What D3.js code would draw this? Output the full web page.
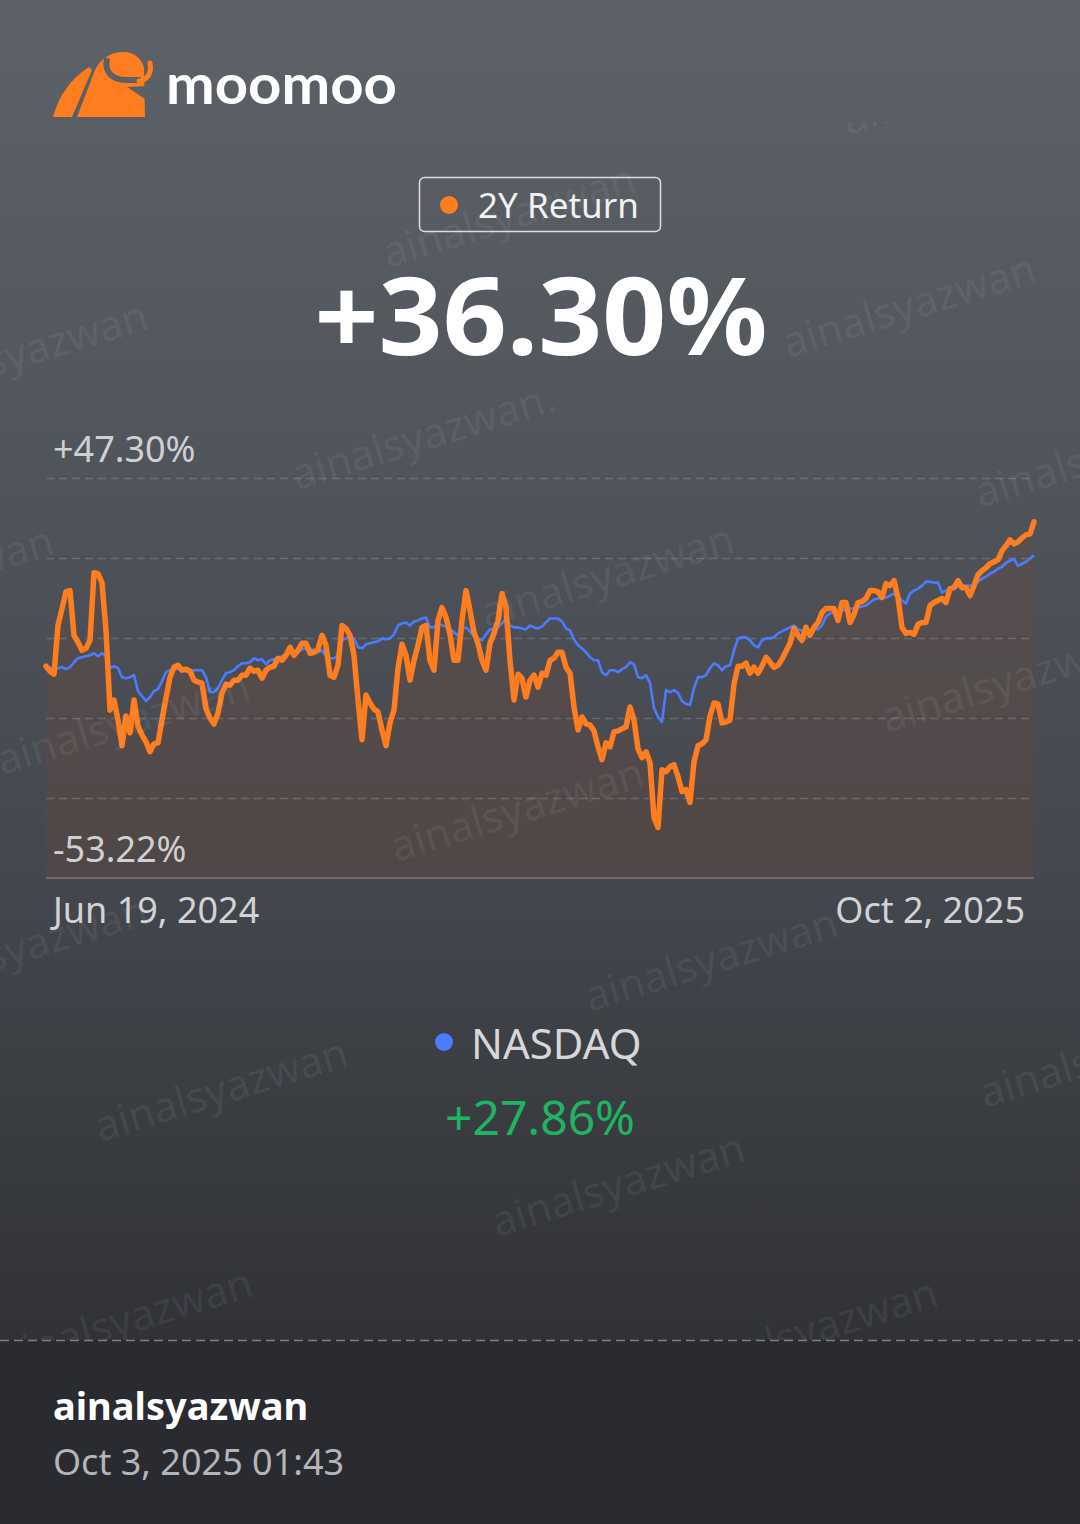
<!DOCTYPE html>
<html>
<head>
<meta charset="utf-8">
<script src="https://cdnjs.cloudflare.com/ajax/libs/d3/7.8.5/d3.min.js"></script>
<style>
  body { margin: 0; background: #2a2b30; }
  svg { display: block; }
</style>
</head>
<body>
<div id="chart"></div>
<script>
// fund return (%) sampled evenly from Jun 19, 2024 to Oct 2, 2025
var fundReturns = [
  0, -1.25, -2, 10.25, 14.5, 18.75, 19, 7.75, 6, 4,
  4.5, 6.5, 23.5, 23.25, 21, 9, -11, -8.5, -13.5, -20,
  -12.5, -16.75, -8.5, -15, -17.25, -19, -21.5, -19.5, -19.25, -13.5,
  -8, -2.75, -0.25, 0.25, -1, -0.75, -1.25, -3.5, -4, -4.25,
  -10.75, -13, -14.5, -11.75, -6.75, -4.5, -4.75, -3.5, -3.5, -2.25,
  -2.25, -0.5, -1.25, -1, -3, -1, -0.25, 0, 2, 1.5,
  2.75, 4.75, 2.75, 4, 5.75, 5.75, 3.25, 3.5, 4.25, 7.75,
  5.25, -2.25, -2.75, 0.25, 10.25, 9.5, 7.75, 2.75, -8.5, -18.5,
  -7.25, -9.25, -10.75, -11.5, -16, -20, -14.25, -11, -0.5, 5.5,
  2.75, -3.5, 1.5, 5.25, 9.75, 10.25, 1.5, -1, 11.5, 14.75,
  12.25, 8, 1.5, 1.5, 11.5, 19, 14, 8.5, 5.75, 1.5,
  -1, 5.75, 8.25, 11.5, 18.25, 14.75, 1.5, -8.5, -2, -3,
  -7.75, -3.5, -2.25, -5.25, -1.75, -2.25, 1.5, 2, 3.5, 3.5,
  -0.25, -1.75, -10.25, -16, -12.75, -14.5, -14.75, -16.25, -20.25, -23.5,
  -19.25, -20.25, -16.5, -16.25, -15.75, -15.25, -10.25, -13.5, -20.75, -23,
  -21.5, -24.25, -38, -40.5, -26, -26.5, -25.25, -24.75, -27.75, -31.5,
  -31, -34.25, -24, -20, -19.5, -18.5, -12.5, -9.25, -9.5, -14.25,
  -14, -13.5, -4.5, 0, 0, 0.75, -1.75, -0.25, -1.75, 0,
  2.25, 1, -0.25, 0.25, 1.75, 3.75, 5.75, 9.5, 7.75, 6.5,
  9.75, 7.75, 9.75, 11, 13.5, 14.5, 14.5, 14.5, 11.5, 16,
  16, 11, 13, 16, 16.25, 17, 19, 19, 18.75, 17.25,
  20.75, 20.25, 21.5, 17.25, 9.75, 8.25, 8.5, 8, 10.5, 11,
  11, 15.25, 16, 16.5, 17, 16, 19.5, 19.75, 21.5, 19.75,
  19.75, 17.75, 20.25, 23, 24, 24.75, 25.75, 26.25, 26.75, 29,
  30.25, 31.75, 30.75, 31.25, 32.25, 33, 33.25, 36.30
];

// NASDAQ return (%) over the same dates
var nasdaqReturns = [
  0, -0.25, -1, -0.5, -0.25, -0.75, -0.25, 1, 2, 2.25,
  2.5, 2.75, 3.25, 2.5, 3.25, 2.5, -0.5, 0, -0.5, -2.75,
  -3, -2.75, -2.25, -6.25, -7.5, -8.75, -7.75, -6.25, -5.75, -3.75,
  -1.5, -1, -0.75, -0.75, -0.5, -1.25, -1.5, -1, -1, -1,
  -2.75, -6.5, -6.5, -5.5, -3.5, -1.75, -1.5, -1, 0, 0.75,
  0.75, 1, 2, 1.5, 1.75, 0.5, 1.5, 1.75, 2, 2.5,
  3, 3.25, 3.5, 3.5, 4.25, 4.5, 4.5, 4, 3.5, 4,
  2.5, 2, 2, 2.75, 6.5, 7, 7.5, 7, 4.75, 4.5,
  5.5, 5.75, 6, 6.25, 7, 6.75, 7, 8, 10.25, 10.75,
  11, 10.25, 11.25, 11.5, 12, 12.25, 9.75, 9.75, 10.75, 10.25,
  10, 9.25, 8.5, 7.75, 9.5, 9.75, 8.75, 7.5, 7, 6.5,
  8, 9.25, 9.5, 9.75, 10.75, 11.75, 10.25, 9.75, 9.75, 9.5,
  9.25, 10.25, 9.75, 9.5, 10, 11, 12, 12, 12, 11.25,
  9.5, 9, 6.75, 5.25, 4.5, 3.5, 2.25, 1.5, 1.5, -1.5,
  -2.25, -1, -1, -1.5, -0.75, -0.25, 1, 0.5, -2.75, -3,
  -2.25, -4.25, -10.5, -12.75, -14, -6, -6.5, -6, -6.75, -8.75,
  -9.5, -9.75, -5.5, -2.75, -2.75, -2.25, -0.5, 0.75, 0.25, -1,
  0, 0.25, 4, 7, 7.25, 7.25, 6.5, 5.25, 4.75, 6.5,
  7, 7, 7.25, 8.25, 8.75, 9.25, 9.75, 10.25, 9.25, 9,
  8.5, 9, 9.5, 9.25, 10.25, 12.5, 13.25, 13.5, 13.5, 14,
  14.25, 14.5, 14.5, 14.75, 15, 15.25, 16, 16.75, 17, 17.25,
  17.25, 17.75, 18.25, 17.5, 16.5, 15.75, 18.25, 19, 19.5, 20.25,
  21.25, 21.25, 21, 21, 18.5, 19, 19.5, 19.75, 20, 20.25,
  20.25, 20.25, 20.25, 21.25, 22, 22.5, 23.25, 23.75, 24.5, 25,
  26, 26.5, 27, 25.25, 25.75, 26.25, 27, 27.86
];

var dateLabels = ["Jun 19, 2024", "Oct 2, 2025"];
var yRange = [-53.22, 47.30];
var yLabels = ["+47.30%", "-53.22%"];
var headline = { name: "2Y Return", value: "+36.30%" };
var benchmark = { name: "NASDAQ", value: "+27.86%" };
var watermark = "ainalsyazwan";
var footerUser = "ainalsyazwan";
var footerTime = "Oct 3, 2025 01:43";

var width = 1080, height = 1524;
var orange = "#ff7d1e", blue = "#4a7cff", green = "#1fb462";
var font = "'Noto Sans', 'Open Sans', sans-serif";

var svg = d3.select("#chart").append("svg")
    .attr("width", width).attr("height", height);

var defs = svg.append("defs");
var bg = defs.append("linearGradient").attr("id", "bg")
    .attr("x1", 0).attr("y1", 0).attr("x2", 0).attr("y2", 1340).attr("gradientUnits", "userSpaceOnUse");
bg.append("stop").attr("offset", "0").attr("stop-color", "#5d6168");
bg.append("stop").attr("offset", "0.35").attr("stop-color", "#50545b");
bg.append("stop").attr("offset", "0.65").attr("stop-color", "#44474d");
bg.append("stop").attr("offset", "1").attr("stop-color", "#303237");

defs.append("clipPath").attr("id", "wmclip")
    .append("rect").attr("x", 0).attr("y", 122).attr("width", width).attr("height", 1218);

svg.append("rect").attr("width", width).attr("height", 1340).attr("fill", "url(#bg)");

// chart scales
var margin = { left: 46, right: 46, top: 478, bottom: 878 };
var x = d3.scaleLinear().domain([0, fundReturns.length - 1]).range([margin.left, width - margin.right]);
var y = d3.scaleLinear().domain(yRange).range([margin.bottom, margin.top]);

var chartGroup = svg.append("g");

var area = d3.area()
    .x(function(d, i) { return x(i); })
    .y0(y(yRange[0]))
    .y1(function(d) { return y(d); });

chartGroup.append("path").attr("d", area(fundReturns))
    .attr("fill", "rgba(120,72,52,0.22)");

// dashed grid, five equal steps from top label to bottom
var gridVals = d3.range(5).map(function(i) {
    return yRange[1] - i * (yRange[1] - yRange[0]) / 5;
});
chartGroup.selectAll("line.grid").data(gridVals).enter().append("line")
    .attr("class", "grid")
    .attr("x1", x(0)).attr("x2", x(fundReturns.length - 1))
    .attr("y1", function(d) { return Math.round(y(d)) + 0.5; })
    .attr("y2", function(d) { return Math.round(y(d)) + 0.5; })
    .attr("stroke", "rgba(255,255,255,0.16)")
    .attr("stroke-width", 1.5)
    .attr("stroke-dasharray", "8,5");

chartGroup.append("line")
    .attr("x1", x(0)).attr("x2", x(fundReturns.length - 1))
    .attr("y1", y(yRange[0])).attr("y2", y(yRange[0]))
    .attr("stroke", "rgba(255,255,255,0.2)").attr("stroke-width", 2);

// watermarks (clipped out of header and footer)
var wmSpots = [
    [848, 135], [388, 268], [788, 358], [-100, 405], [297, 490], [980, 508],
    [-194, 630], [486, 628], [887, 733], [2, 775], [396, 862], [-100, 1000],
    [590, 1012], [985, 1108], [100, 1142], [497, 1237], [5, 1372], [690, 1382]
];
svg.append("g").attr("clip-path", "url(#wmclip)")
    .selectAll("text").data(wmSpots).enter().append("text")
    .attr("transform", function(d) { return "translate(" + d[0] + "," + d[1] + ") rotate(-17)"; })
    .attr("font-family", font).attr("font-size", 42)
    .attr("fill", "rgba(255,255,255,0.08)")
    .text(function(d, i) { return i === 4 ? watermark + "." : watermark; });

var line = d3.line()
    .x(function(d, i) { return x(i); })
    .y(function(d) { return y(d); });

chartGroup.append("path").attr("d", line(nasdaqReturns))
    .attr("fill", "none").attr("stroke", blue).attr("stroke-width", 2.6)
    .attr("stroke-linejoin", "round");

chartGroup.append("path").attr("d", line(fundReturns))
    .attr("fill", "none").attr("stroke", orange).attr("stroke-width", 5.5)
    .attr("stroke-linejoin", "round").attr("stroke-linecap", "round");

// axis labels
chartGroup.append("text").attr("x", 53).attr("y", 462)
    .attr("font-family", font).attr("font-size", 36).attr("fill", "#cfd0d3")
    .text(yLabels[0]);
chartGroup.append("text").attr("x", 53).attr("y", 862)
    .attr("font-family", font).attr("font-size", 36).attr("fill", "#cfd0d3")
    .text(yLabels[1]);
chartGroup.append("text").attr("x", 53).attr("y", 923)
    .attr("font-family", font).attr("font-size", 36).attr("fill", "#d2d3d6")
    .text(dateLabels[0]);
chartGroup.append("text").attr("x", 1025).attr("y", 923).attr("text-anchor", "end")
    .attr("font-family", font).attr("font-size", 36).attr("fill", "#d2d3d6")
    .text(dateLabels[1]);

// logo
var cut = "#5b5f66";
var logo = svg.append("g");
logo.append("path").attr("d", "M53,117 C59,96 70,79 89,67 L92,70 L72,117 Z").attr("fill", orange);
logo.append("path").attr("d", "M77,117 L95,70 C100,59 111,52 123,52 C135,52 142,59 144,68 L145,117 Z").attr("fill", orange);
logo.append("path").attr("d", "M107,58 C104,72 112,80 126,80 L141,80")
    .attr("fill", "none").attr("stroke", cut).attr("stroke-width", 6);
logo.append("path").attr("d", "M139,81 C148,80 152,72 150,63")
    .attr("fill", "none").attr("stroke", orange).attr("stroke-width", 5).attr("stroke-linecap", "round");
logo.append("path").attr("d", "M127,87 L146,86 L145,99 Z").attr("fill", cut);
logo.append("text").attr("x", 166).attr("y", 104)
    .attr("font-family", "Lato, 'Noto Sans', sans-serif").attr("font-weight", 700)
    .attr("font-size", 56).attr("fill", "#ffffff")
    .attr("textLength", 231).attr("lengthAdjust", "spacingAndGlyphs")
    .text("moomoo");

// headline legend box
svg.append("rect").attr("x", 419.5).attr("y", 177.5).attr("width", 241).attr("height", 54).attr("rx", 5)
    .attr("fill", "none").attr("stroke", "rgba(255,255,255,0.8)").attr("stroke-width", 1.5);
svg.append("circle").attr("cx", 449).attr("cy", 205).attr("r", 9).attr("fill", orange);
svg.append("text").attr("x", 478).attr("y", 218)
    .attr("font-family", font).attr("font-size", 35).attr("fill", "#f2f2f3")
    .text(headline.name);
svg.append("text").attr("x", 541).attr("y", 355).attr("text-anchor", "middle")
    .attr("font-family", font).attr("font-weight", 700).attr("font-size", 108).attr("fill", "#ffffff")
    .attr("textLength", 453).attr("lengthAdjust", "spacingAndGlyphs")
    .text(headline.value);

// benchmark legend
svg.append("circle").attr("cx", 444).attr("cy", 1042).attr("r", 9).attr("fill", blue);
svg.append("text").attr("x", 471).attr("y", 1059)
    .attr("font-family", font).attr("font-size", 42).attr("fill", "#d6d7da")
    .text(benchmark.name);
svg.append("text").attr("x", 540).attr("y", 1135).attr("text-anchor", "middle")
    .attr("font-family", font).attr("font-size", 48).attr("fill", green)
    .text(benchmark.value);

// footer
svg.append("rect").attr("y", 1340).attr("width", width).attr("height", height - 1340).attr("fill", "#2a2b30");
svg.append("line").attr("x1", 0).attr("x2", width).attr("y1", 1340.5).attr("y2", 1340.5)
    .attr("stroke", "rgba(255,255,255,0.4)").attr("stroke-width", 1.5).attr("stroke-dasharray", "9,5");
svg.append("text").attr("x", 53).attr("y", 1420)
    .attr("font-family", font).attr("font-weight", 700).attr("font-size", 38).attr("fill", "#ffffff")
    .text(footerUser);
svg.append("text").attr("x", 53).attr("y", 1475)
    .attr("font-family", font).attr("font-size", 36).attr("fill", "#b4b5b9")
    .text(footerTime);
</script>
</body>
</html>
